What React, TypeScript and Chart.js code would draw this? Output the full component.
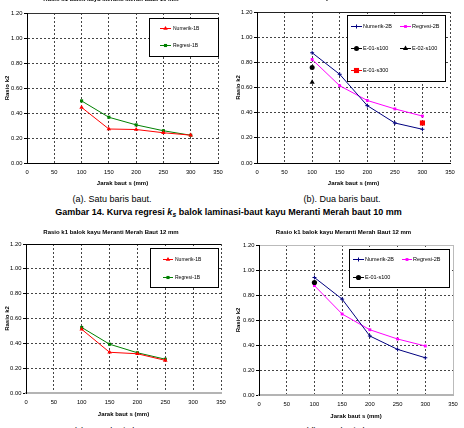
import React, { useEffect, useRef } from "react";
import { Chart, registerables } from "chart.js";

Chart.register(...registerables);

const FONT = "'Liberation Sans', Arial, Helvetica, sans-serif";

// ---------------- data ----------------
const xTitle = "Jarak baut s (mm)";
const yTitle = "Rasio k2";
const title10 = "Rasio k1 balok kayu Meranti Merah Baut 10 mm";
const title12 = "Rasio k1 balok kayu Meranti Merah Baut 12 mm";

// (a) one bolt row, 10 mm
const spacing10x1 = [100, 150, 200, 250, 300];
const numerik1B_10 = [0.445, 0.272, 0.268, 0.242, 0.223];
const regresi1B_10 = [0.497, 0.366, 0.305, 0.258, 0.222];

// (b) two bolt rows, 10 mm
const spacing10x2 = [100, 150, 200, 250, 300];
const numerik2B_10 = [0.876, 0.705, 0.456, 0.318, 0.268];
const regresi2B_10 = [0.823, 0.614, 0.497, 0.43, 0.373];
const at100 = [100];
const at300 = [300];
const e01s100_10 = [0.758];
const e02s100_10 = [0.641];
const e01s300_10 = [0.318];

// (c) one bolt row, 12 mm
const spacing12x1 = [100, 150, 200, 250];
const numerik1B_12 = [0.513, 0.328, 0.316, 0.263];
const regresi1B_12 = [0.528, 0.393, 0.324, 0.272];

// (d) two bolt rows, 12 mm
const spacing12x2 = [100, 150, 200, 250, 300];
const numerik2B_12 = [0.94, 0.767, 0.472, 0.365, 0.298];
const regresi2B_12 = [0.875, 0.648, 0.522, 0.448, 0.392];
const e01s100_12 = [0.9];

const X_MIN = 0, X_MAX = 350, X_STEP = 50;
const Y_MIN = 0, Y_MAX = 1.2, Y_STEP = 0.2;

// ---------------- types ----------------
interface Series {
  label: string; xs: number[]; ys: number[]; color: string;
  style: string; radius: number; line: boolean;
}
interface LegendItem { i: number; x1: number; x2: number; tx: number; y: number; }
interface Spec {
  canvas: { left: number; top: number; width: number; height: number };
  area: { left: number; top: number; right: number; bottom: number };
  title: string; titleX: number; titleY: number;
  xTickY: number; xTitleY: number; yTitleX: number;
  series: Series[];
  legendBox: { x: number; y: number; w: number; h: number };
  legendItems: LegendItem[];
  legendFont: number;
  xBorderColor: string; xBorderWidth: number;
  topColor: string; rightColor: string; rightSolid: boolean;
  gridColor: string; tickColor: string;
}

const RED = "#FF0000", GREEN = "#008000", NAVY = "#000080", MAGENTA = "#FF00FF", BLACK = "#000000";

const s = (label: string, xs: number[], ys: number[], color: string, style: string, radius: number, line: boolean): Series =>
  ({ label, xs, ys, color, style, radius, line });

const specA: Spec = {
  canvas: { left: 0, top: -12, width: 232, height: 204 },
  area: { left: 27, top: 13, right: 218, bottom: 163 },
  title: title10, titleX: 111, titleY: -1,
  xTickY: 172, xTitleY: 183, yTitleX: 7,
  series: [
    s("Numerik-1B", spacing10x1, numerik1B_10, RED, "triangle", 2.6, true),
    s("Regresi-1B", spacing10x1, regresi1B_10, GREEN, "rect", 2.2, true),
  ],
  legendBox: { x: 149, y: 18, w: 69, h: 38 },
  legendItems: [
    { i: 0, x1: 160, x2: 171, tx: 173, y: 28.5 },
    { i: 1, x1: 160, x2: 171, tx: 173, y: 45.5 },
  ],
  legendFont: 5,
  xBorderColor: "#000", xBorderWidth: 1,
  topColor: "#333", rightColor: "#444", rightSolid: false,
  gridColor: "#444", tickColor: "#000",
};

const specB: Spec = {
  canvas: { left: 232, top: -12, width: 232, height: 204 },
  area: { left: 257, top: 12, right: 450, bottom: 163 },
  title: title10, titleX: 343, titleY: -2,
  xTickY: 172, xTitleY: 183, yTitleX: 238,
  series: [
    s("Numerik-2B", spacing10x2, numerik2B_10, NAVY, "cross", 2, true),
    s("Regresi-2B", spacing10x2, regresi2B_10, MAGENTA, "rect", 2, true),
    s("E-01-s100", at100, e01s100_10, BLACK, "circle", 2.5, false),
    s("E-02-s100", at100, e02s100_10, BLACK, "triangle", 3, false),
    s("E-01-s300", at300, e01s300_10, RED, "rect", 3.6, false),
  ],
  legendBox: { x: 347, y: 15, w: 98, h: 66 },
  legendItems: [
    { i: 0, x1: 351, x2: 362, tx: 363, y: 26.5 },
    { i: 1, x1: 400, x2: 411, tx: 412, y: 26.5 },
    { i: 2, x1: 351, x2: 362, tx: 363, y: 48.5 },
    { i: 3, x1: 400, x2: 411, tx: 412, y: 48.5 },
    { i: 4, x1: 351, x2: 362, tx: 363, y: 70.5 },
  ],
  legendFont: 5.5,
  xBorderColor: "#000", xBorderWidth: 1,
  topColor: "#222", rightColor: "#444", rightSolid: false,
  gridColor: "#444", tickColor: "#000",
};

const specC: Spec = {
  canvas: { left: 0, top: 222, width: 232, height: 200 },
  area: { left: 26, top: 244, right: 221, bottom: 393 },
  title: title12, titleX: 111, titleY: 232.5,
  xTickY: 402, xTitleY: 414.5, yTitleX: 7,
  series: [
    s("Numerik-1B", spacing12x1, numerik1B_12, RED, "triangle", 2.6, true),
    s("Regresi-1B", spacing12x1, regresi1B_12, GREEN, "rect", 2.2, true),
  ],
  legendBox: { x: 150, y: 248, w: 68, h: 39 },
  legendItems: [
    { i: 0, x1: 163, x2: 173, tx: 175, y: 259.5 },
    { i: 1, x1: 163, x2: 173, tx: 175, y: 277.5 },
  ],
  legendFont: 5,
  xBorderColor: "#b4b4b4", xBorderWidth: 2,
  topColor: "#000", rightColor: "#444", rightSolid: false,
  gridColor: "#444", tickColor: "#000",
};

const specD: Spec = {
  canvas: { left: 232, top: 222, width: 232, height: 200 },
  area: { left: 259, top: 245, right: 453, bottom: 395 },
  title: title12, titleX: 343.5, titleY: 232.5,
  xTickY: 404, xTitleY: 416, yTitleX: 238,
  series: [
    s("Numerik-2B", spacing12x2, numerik2B_12, NAVY, "cross", 2, true),
    s("Regresi-2B", spacing12x2, regresi2B_12, MAGENTA, "rect", 2, true),
    s("E-01-s100", at100, e01s100_12, BLACK, "circle", 2.6, false),
  ],
  legendBox: { x: 349, y: 249, w: 100, h: 38 },
  legendItems: [
    { i: 0, x1: 353, x2: 364, tx: 365, y: 259.5 },
    { i: 1, x1: 402, x2: 412, tx: 413, y: 259.5 },
    { i: 2, x1: 353, x2: 364, tx: 365, y: 277.5 },
  ],
  legendFont: 5.5,
  xBorderColor: "#b4b4b4", xBorderWidth: 2,
  topColor: "#bbbbbb", rightColor: "#bbbbbb", rightSolid: true,
  gridColor: "#444", tickColor: "#000",
};

// ---------------- drawing helpers ----------------
function drawMarker(ctx: CanvasRenderingContext2D, style: string, x: number, y: number, r: number, color: string) {
  ctx.save();
  ctx.setLineDash([]);
  ctx.fillStyle = color;
  ctx.strokeStyle = color;
  ctx.lineWidth = 1;
  ctx.beginPath();
  if (style === "triangle") {
    ctx.moveTo(x, y - r);
    ctx.lineTo(x + r * 0.866, y + r * 0.5);
    ctx.lineTo(x - r * 0.866, y + r * 0.5);
    ctx.closePath();
    ctx.fill();
  } else if (style === "rect") {
    const h = r * Math.SQRT1_2;
    ctx.fillRect(x - h, y - h, 2 * h, 2 * h);
  } else if (style === "circle") {
    ctx.arc(x, y, r, 0, Math.PI * 2);
    ctx.fill();
  } else if (style === "cross") {
    ctx.moveTo(x - r, y);
    ctx.lineTo(x + r, y);
    ctx.moveTo(x, y - r);
    ctx.lineTo(x, y + r);
    ctx.stroke();
  }
  ctx.restore();
}

const TICK_SIZE = 5.8;
const TITLE_SIZE = 6;
const near = (a: number, b: number) => Math.abs(a - b) < 1e-6;

function Panel({ spec }: { spec: Spec }) {
  const ref = useRef<HTMLCanvasElement>(null);
  useEffect(() => {
    const canvas = ref.current;
    if (!canvas) return;
    const cv = spec.canvas;
    const area = spec.area;
    const W = area.left - cv.left;
    const H = cv.top + cv.height - area.bottom;
    const padTop = area.top - cv.top;
    const padRight = cv.left + cv.width - area.right;
    const tl = 3;
    const tickLH = TICK_SIZE * 1.2;
    const titleLH = TITLE_SIZE * 1.2;
    const xTickPad = spec.xTickY - area.bottom - tl - tickLH / 2;
    const xTitlePad = cv.top + cv.height - titleLH / 2 - spec.xTitleY;
    const yTitlePad = spec.yTitleX - cv.left - titleLH / 2;
    const yTickPad = 1.6;

    const extras = {
      id: "extras",
      afterDraw(chart: any) {
        const ctx: CanvasRenderingContext2D = chart.ctx;
        const ox = cv.left, oy = cv.top;
        ctx.save();
        ctx.setLineDash([]);
        ctx.font = `bold ${TITLE_SIZE}px ${FONT}`;
        ctx.fillStyle = "#000";
        ctx.textAlign = "center";
        ctx.textBaseline = "middle";
        ctx.fillText(spec.title, spec.titleX - ox, spec.titleY - oy);
        const b = spec.legendBox;
        ctx.fillStyle = "#fff";
        ctx.fillRect(b.x - ox, b.y - oy, b.w, b.h);
        ctx.strokeStyle = "#000";
        ctx.lineWidth = 1;
        ctx.strokeRect(Math.round(b.x - ox) + 0.5, Math.round(b.y - oy) + 0.5, b.w, b.h);
        ctx.font = `${spec.legendFont}px ${FONT}`;
        ctx.textAlign = "left";
        for (const it of spec.legendItems) {
          const se = spec.series[it.i];
          const y = it.y - oy;
          ctx.strokeStyle = se.color;
          ctx.lineWidth = 1;
          ctx.beginPath();
          ctx.moveTo(it.x1 - ox, y);
          ctx.lineTo(it.x2 - ox, y);
          ctx.stroke();
          drawMarker(ctx, se.style, (it.x1 + it.x2) / 2 - ox, y, se.radius, se.color);
          ctx.fillStyle = "#000";
          ctx.fillText(se.label, it.tx - ox, y);
        }
        ctx.restore();
      },
    };

    const chart = new Chart(canvas, {
      type: "line",
      data: {
        datasets: spec.series.map((se) => ({
          label: se.label,
          data: se.xs.map((x, i) => ({ x, y: se.ys[i] })),
          borderColor: se.color,
          backgroundColor: se.color,
          borderWidth: 1,
          showLine: se.line,
          tension: 0,
          pointStyle: se.style as any,
          pointRadius: se.radius,
          pointHoverRadius: se.radius,
          pointBackgroundColor: se.color,
          pointBorderColor: se.color,
          pointBorderWidth: se.style === "cross" ? 1 : 0,
          order: se.line ? 1 : 0,
        })),
      },
      options: {
        animation: false,
        responsive: false,
        maintainAspectRatio: false,
        devicePixelRatio: 1,
        events: [],
        layout: { padding: { left: 0, top: padTop, right: padRight, bottom: 0 } },
        plugins: {
          legend: { display: false },
          tooltip: { enabled: false },
          title: { display: false },
        },
        scales: {
          x: {
            type: "linear",
            min: X_MIN,
            max: X_MAX,
            afterFit: (sc: any) => { sc.height = H; },
            ticks: {
              stepSize: X_STEP,
              autoSkip: false,
              maxRotation: 0,
              padding: xTickPad,
              color: "#000",
              font: { family: FONT, size: TICK_SIZE },
              callback: (v: any) => String(v),
            },
            grid: {
              color: (c: any) => {
                const v = c.tick ? c.tick.value : NaN;
                if (near(v, X_MIN)) return "rgba(0,0,0,0)";
                if (near(v, X_MAX)) return spec.rightColor;
                return spec.gridColor;
              },
              lineWidth: 1,
              tickLength: tl,
              tickColor: "rgba(0,0,0,0)",
              tickBorderDash: [],
            },
            border: {
              color: spec.xBorderColor,
              width: spec.xBorderWidth,
              dash: (c: any) => {
                const v = c.tick ? c.tick.value : NaN;
                if (near(v, X_MAX) && spec.rightSolid) return [];
                return [2, 2];
              },
            },
            title: {
              display: true,
              text: xTitle,
              color: "#000",
              font: { family: FONT, size: TITLE_SIZE, weight: "bold" },
              padding: { top: 0, bottom: xTitlePad },
            },
          },
          y: {
            type: "linear",
            min: Y_MIN,
            max: Y_MAX,
            afterFit: (sc: any) => { sc.width = W; },
            ticks: {
              stepSize: Y_STEP,
              padding: yTickPad,
              color: "#000",
              font: { family: FONT, size: TICK_SIZE },
              callback: (v: any) => Number(v).toFixed(2),
            },
            grid: {
              color: (c: any) => {
                const v = c.tick ? c.tick.value : NaN;
                if (near(v, Y_MIN)) return "rgba(0,0,0,0)";
                if (near(v, Y_MAX)) return spec.topColor;
                return spec.gridColor;
              },
              lineWidth: 1,
              tickLength: tl,
              tickColor: spec.tickColor,
              tickBorderDash: [],
            },
            border: {
              color: "#000",
              width: 1,
              dash: (c: any) => {
                const v = c.tick ? c.tick.value : NaN;
                if (near(v, Y_MAX)) return [];
                return [2, 2];
              },
            },
            title: {
              display: true,
              text: yTitle,
              color: "#000",
              font: { family: FONT, size: TITLE_SIZE, weight: "bold" },
              padding: { top: yTitlePad, bottom: 0 },
            },
          },
        },
      },
      plugins: [extras],
    } as any);
    return () => chart.destroy();
  }, [spec]);

  return (
    <canvas
      ref={ref}
      width={spec.canvas.width}
      height={spec.canvas.height}
      style={{
        position: "absolute",
        left: spec.canvas.left,
        top: spec.canvas.top,
        width: spec.canvas.width,
        height: spec.canvas.height,
      }}
    />
  );
}

function Caption({ cx, cy, bold, size, children }: { cx: number; cy: number; bold?: boolean; size: number; children: any }) {
  return (
    <div
      style={{
        position: "absolute",
        left: cx - 240,
        width: 480,
        top: cy - 7,
        height: 14,
        lineHeight: "14px",
        fontSize: size,
        fontFamily: FONT,
        fontWeight: bold ? "bold" : "normal",
        textAlign: "center",
        whiteSpace: "nowrap",
        color: "#000",
      }}
    >
      {children}
    </div>
  );
}

export default function App() {
  return (
    <div
      style={{
        position: "fixed",
        left: 0,
        top: 0,
        width: 464,
        height: 428,
        overflow: "hidden",
        background: "#fff",
      }}
    >
      <Panel spec={specA} />
      <Panel spec={specB} />
      <Panel spec={specC} />
      <Panel spec={specD} />
      <Caption cx={112} cy={199} size={9}>(a). Satu baris baut.</Caption>
      <Caption cx={342} cy={199} size={9}>(b). Dua baris baut.</Caption>
      <Caption cx={228.5} cy={212} size={9} bold>
        Gambar 14. Kurva regresi <i>k</i>
        <span style={{ fontSize: "0.75em", fontStyle: "italic", verticalAlign: "-0.3em" }}>s</span> balok laminasi-baut kayu Meranti Merah baut 10 mm
      </Caption>
      <Caption cx={113} cy={431} size={9}>(c). Satu baris baut.</Caption>
      <Caption cx={344} cy={431} size={9}>(d). Dua baris baut.</Caption>
    </div>
  );
}
